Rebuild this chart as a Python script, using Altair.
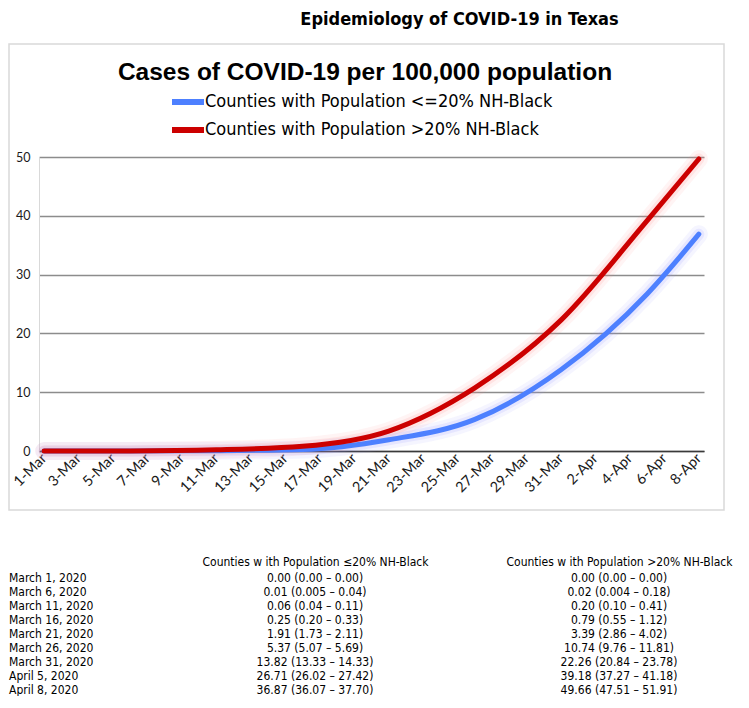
import altair as alt
import pandas as pd

# ---------------- data ----------------
title_main = "Epidemiology of COVID-19 in Texas"
title_chart = "Cases of COVID-19 per 100,000 population"

series_low = "Counties with Population <=20% NH-Black"
series_high = "Counties with Population >20% NH-Black"

day_labels = [f"{d}-Mar" for d in range(1, 32)] + [f"{d}-Apr" for d in range(1, 9)]
tick_labels = day_labels[::2]

point_days = ["1-Mar", "6-Mar", "11-Mar", "16-Mar", "21-Mar", "26-Mar", "31-Mar", "5-Apr", "8-Apr"]
cases_low = [0.00, 0.01, 0.06, 0.25, 1.91, 5.37, 13.82, 26.71, 36.87]
cases_high = [0.00, 0.02, 0.20, 0.79, 3.39, 10.74, 22.26, 39.18, 49.66]

y_ticks = [0, 10, 20, 30, 40, 50]

table_dates = ["March 1, 2020", "March 6, 2020", "March 11, 2020", "March 16, 2020",
               "March 21, 2020", "March 26, 2020", "March 31, 2020", "April 5, 2020",
               "April 8, 2020"]
header_low = "Counties w ith Population \u226420% NH-Black"
header_high = "Counties w ith Population >20% NH-Black"
ci_low = ["0.00 (0.00 \u2013 0.00)", "0.01 (0.005 \u2013 0.04)", "0.06 (0.04 \u2013 0.11)",
          "0.25 (0.20 \u2013 0.33)", "1.91 (1.73 \u2013 2.11)", "5.37 (5.07 \u2013 5.69)",
          "13.82 (13.33 \u2013 14.33)", "26.71 (26.02 \u2013 27.42)", "36.87 (36.07 \u2013 37.70)"]
ci_high = ["0.00 (0.00 \u2013 0.00)", "0.02 (0.004 \u2013 0.18)", "0.20 (0.10 \u2013 0.41)",
           "0.79 (0.55 \u2013 1.12)", "3.39 (2.86 \u2013 4.02)", "10.74 (9.76 \u2013 11.81)",
           "22.26 (20.84 \u2013 23.78)", "39.18 (37.27 \u2013 41.18)", "49.66 (47.51 \u2013 51.91)"]

# ---------------- tables for the library ----------------
df_lines = pd.DataFrame({
    "day": point_days * 2,
    "cases": cases_low + cases_high,
    "series": [series_low] * len(point_days) + [series_high] * len(point_days),
})
df_vals = pd.DataFrame({
    "row": table_dates * 2,
    "col": [header_low] * len(table_dates) + [header_high] * len(table_dates),
    "text": ci_low + ci_high,
})
df_rows = pd.DataFrame({"row": table_dates, "kind": ["date"] * len(table_dates)})
df_frame = pd.DataFrame({"frame": [1]})
df_sub = pd.DataFrame({"label": [title_chart]})

# ---------------- styling ----------------
NARROW = "'DejaVu Sans Condensed', 'Liberation Sans Narrow', sans-serif"
ARIAL = "'Liberation Sans', Arial, sans-serif"
CAL = "Lato, 'Open Sans', sans-serif"
BLUE = "#4D80FF"
RED = "#CC0000"
GLOW_BLUE = "#8f8fff"
GLOW_RED = "#ff8080"

W, H = 665, 294
ROW_RANGE = [421, 533]

x_enc = alt.X(
    "day:O",
    scale=alt.Scale(type="point", domain=day_labels, padding=0.3),
    axis=alt.Axis(values=tick_labels, labelAngle=315, labelAlign="right", labelBaseline="middle",
                  labelPadding=5, ticks=False, grid=False, domain=True, domainColor="#3a3a3a",
                  domainWidth=1.5, labelFont=CAL, labelFontSize=14.5, labelColor="#1a1a1a",
                  labelOverlap=False, orient="bottom"),
    title=None,
)
y_enc = alt.Y(
    "cases:Q",
    scale=alt.Scale(domain=[0, 50], nice=False),
    axis=alt.Axis(values=y_ticks, grid=True, gridColor="#8c8c8c", gridWidth=1.5, ticks=False,
                  domain=True, domainColor="#d9d9d9", domainWidth=1, labelPadding=9,
                  labelFont=CAL, labelFontSize=12.5, labelColor="#1a1a1a"),
    title=None,
)


def glow(name, colour, width, opacity):
    return alt.Chart(df_lines).transform_filter(alt.datum.series == name).mark_line(
        interpolate="monotone", strokeWidth=width, strokeCap="round", strokeJoin="round",
        opacity=opacity, color=colour
    ).encode(x=x_enc, y=y_enc)


main_lines = alt.Chart(df_lines).mark_line(
    interpolate="monotone", strokeWidth=5, strokeCap="round", strokeJoin="round"
).encode(
    x=x_enc, y=y_enc,
    color=alt.Color(
        "series:N",
        scale=alt.Scale(domain=[series_low, series_high], range=[BLUE, RED]),
        legend=alt.Legend(title=None, orient="none", legendX=138, legendY=-66, direction="vertical",
                          symbolType="M-2,0L2,0", symbolSize=256, symbolStrokeWidth=6,
                          labelFont=NARROW, labelFontSize=18, labelColor="#000000",
                          labelOffset=6, rowPadding=4, padding=0, labelLimit=500),
    ),
)

lines = alt.layer(
    glow(series_low, GLOW_BLUE, 18, 0.09), glow(series_high, GLOW_RED, 18, 0.09),
    glow(series_low, GLOW_BLUE, 11, 0.14), glow(series_high, GLOW_RED, 11, 0.14),
    main_lines,
)

frame = alt.Chart(df_frame).mark_rect(filled=False, stroke="#d9d9d9", strokeWidth=1.5).encode(
    x=alt.value(-30), x2=alt.value(685), y=alt.value(-113), y2=alt.value(353)
)

subtitle = alt.Chart(df_sub).mark_text(
    font=ARIAL, fontSize=24.5, fontWeight="bold", align="center", baseline="middle", color="#000000"
).encode(x=alt.value(326), y=alt.value(-84), text="label:N")

t_vals = alt.Chart(df_vals).mark_text(
    font=NARROW, fontSize=12, align="center", baseline="middle", color="#000000"
).encode(
    x=alt.X("col:N", scale=alt.Scale(type="point", domain=[header_low, header_high], range=[276, 580], padding=0),
            axis=alt.Axis(orient="top", offset=-411, domain=False, ticks=False, grid=False, labelPadding=0,
                          labelFont=NARROW, labelFontSize=12, labelColor="#000000", labelAngle=0,
                          labelLimit=600, labelOverlap=False),
            title=None),
    y=alt.Y("row:N", scale=alt.Scale(type="point", domain=table_dates, range=ROW_RANGE, padding=0), axis=None),
    text="text:N",
)

t_rows = alt.Chart(df_rows).mark_text(
    font=NARROW, fontSize=12, align="left", baseline="middle", color="#000000"
).encode(
    x=alt.X("kind:N", scale=alt.Scale(type="point", domain=["date"], range=[-30, -30], padding=0), axis=None),
    y=alt.Y("row:N", scale=alt.Scale(type="point", domain=table_dates, range=ROW_RANGE, padding=0), axis=None),
    text="row:N",
)

chart = alt.layer(frame, lines, t_vals, t_rows, subtitle).resolve_scale(
    x="independent", y="independent"
).properties(
    width=W, height=H,
    padding={"left": 31, "top": 149, "right": 35, "bottom": 245},
    autosize=alt.AutoSizeParams(type="none"),
    background="#ffffff",
    title=alt.TitleParams(title_main, font=NARROW, fontSize=18, fontWeight="bold", color="#000000",
                          anchor="middle", frame="group", dx=88, offset=14),
).configure_view(strokeWidth=0)

chart.save("out.html", embed_options={"renderer": "svg", "actions": False})
